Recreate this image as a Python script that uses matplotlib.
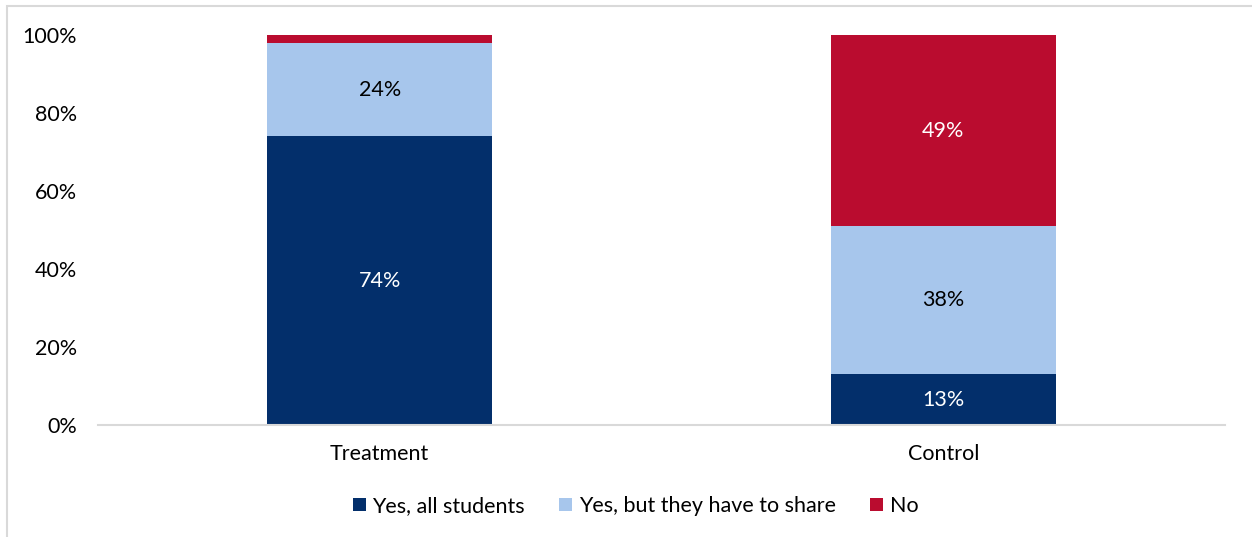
import matplotlib.pyplot as plt
from matplotlib.patches import Rectangle
from matplotlib.ticker import PercentFormatter

plt.rcParams['font.family'] = ['Lato', 'DejaVu Sans']

groups = ['Treatment', 'Control']
series = ['Yes, all students', 'Yes, but they have to share', 'No']
all_students = [74, 13]
share = [24, 38]
no = [2, 49]
colors = ['#032F6B', '#A7C6EC', '#BA0C2F']
label_colors = ['white', 'black', 'white']

fig = plt.figure(figsize=(12.52, 5.37), dpi=100)
ax = fig.add_axes([98 / 1252, (537 - 425) / 537, 1127 / 1252, 390 / 537])

x = range(len(groups))
bottom = [0, 0]
for vals, name, col, tcol in zip([all_students, share, no], series, colors, label_colors):
    bars = ax.bar(x, vals, width=0.4, bottom=bottom, color=col, label=name)
    for b, v, b0 in zip(bars, vals, bottom):
        if v >= 5:
            ax.text(b.get_x() + b.get_width() / 2, b0 + v / 2, f'{v}%',
                    ha='center', va='center', color=tcol, fontsize=15.5)
    bottom = [p + q for p, q in zip(bottom, vals)]

ax.set_xlim(-0.5, 1.5)
ax.set_ylim(0, 100)
ax.set_yticks(range(0, 101, 20))
ax.yaxis.set_major_formatter(PercentFormatter(decimals=0))
ax.set_xticks(list(x))
ax.set_xticklabels(groups)
ax.tick_params(axis='both', length=0, labelsize=15.5, colors='black')
ax.tick_params(axis='x', pad=14)
ax.tick_params(axis='y', pad=15)
for s in ['top', 'right', 'left']:
    ax.spines[s].set_visible(False)
ax.spines['bottom'].set_color('#D9D9D9')
ax.spines['bottom'].set_linewidth(1.5)

ax.legend(loc='center', bbox_to_anchor=(0.5 - 26 / 1127, -0.208), ncol=3, frameon=False,
          fontsize=15.5, handlelength=0.6, handleheight=0.6, handletextpad=0.3,
          columnspacing=1.6)

# light frame around the chart area
fig.patches.append(Rectangle((6.5 / 1252, -0.1), 1.2, 1.1 - 5.5 / 537,
                             transform=fig.transFigure, fill=False,
                             edgecolor='#D9D9D9', linewidth=1.5))

fig.savefig('out.png', dpi=100)
